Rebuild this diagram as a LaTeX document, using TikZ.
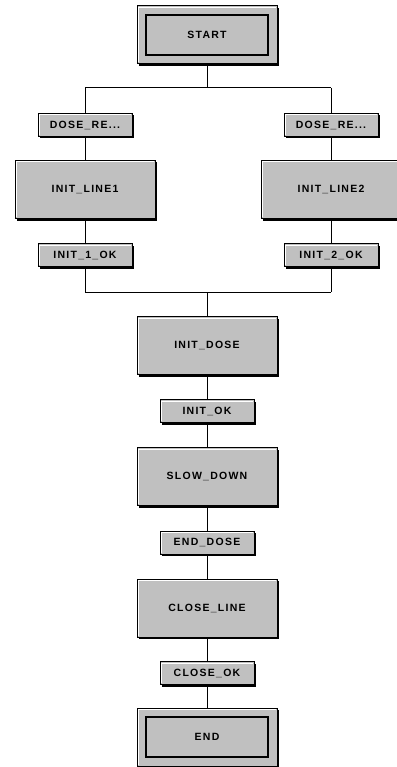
\documentclass[tikz,border=0pt]{standalone}
\usepackage{fontspec}
\newfontfamily\sfcfont{Liberation Sans}[LetterSpace=12]
\usetikzlibrary{positioning,calc,shadows}
\definecolor{stepgray}{RGB}{192,192,192}
\tikzset{
	sfcbox/.style={
		draw=black,
		line width=1pt,
		fill=stepgray,
		inner sep=0pt,
		font=\sfcfont\bfseries\fontsize{10.5}{12}\selectfont,
		drop shadow={shadow xshift=2pt,shadow yshift=-2pt,opacity=1,fill=black},
		path picture={
			\draw[white,line width=1pt]
			([shift={(1.5pt,1.5pt)}]path picture bounding box.south west) |-
			([shift={(-1.5pt,-1.5pt)}]path picture bounding box.north east);
		}
	},
	stepbox/.style={
		sfcbox,
		minimum width=140pt,
		minimum height=58pt
	},
	initstep/.style={
		stepbox,
		path picture={
			\draw[white,line width=1pt]
			([shift={(1.5pt,1.5pt)}]path picture bounding box.south west) |-
			([shift={(-1.5pt,-1.5pt)}]path picture bounding box.north east);
			\draw[line width=1.3pt]
			([shift={(9pt,-9pt)}]path picture bounding box.north west) rectangle
			([shift={(-9pt,9pt)}]path picture bounding box.south east);
		}
	},
	transbox/.style={
		sfcbox,
		minimum width=94pt,
		minimum height=23pt
	},
	link/.style={
		line width=1pt
	}
}

\begin{document}
\begin{tikzpicture}[x=1pt,y=-1pt]
	\useasboundingbox (0,0) rectangle (396,767);
	
	% Initial step
	\node[initstep] (START) at (207,35) {START};
	
	% Parallel branches
	\coordinate (divC) at (207,88);
	\coordinate (divL) at (85,88);
	\coordinate (divR) at (331,88);
	\coordinate (joinC) at (207,292);
	\coordinate (joinL) at (85,292);
	\coordinate (joinR) at (331,292);
	
	% Left line
	\node[transbox] (T_DOSE1) at (85,125) {DOSE\_RE...};
	\node[stepbox] (INIT_LINE1) at (85,189.5) {INIT\_LINE1};
	\node[transbox] (T_INIT1) at (85,255) {INIT\_1\_OK};
	
	% Right line
	\node[transbox] (T_DOSE2) at (331,125) {DOSE\_RE...};
	\node[stepbox] (INIT_LINE2) at (331,189.5) {INIT\_LINE2};
	\node[transbox] (T_INIT2) at (331,255) {INIT\_2\_OK};
	
	% Dosing sequence
	\node[stepbox] (INIT_DOSE) at (207,345.5) {INIT\_DOSE};
	\node[transbox] (T_INIT) at (207,411) {INIT\_OK};
	\node[stepbox] (SLOW_DOWN) at (207,476.5) {SLOW\_DOWN};
	\node[transbox] (T_END) at (207,542.5) {END\_DOSE};
	\node[stepbox] (CLOSE_LINE) at (207,608) {CLOSE\_LINE};
	\node[transbox] (T_CLOSE) at (207,673) {CLOSE\_OK};
	
	% Final step
	\node[initstep] (END) at (207,737) {END};
	
	% Links
	\draw[link] (START) -- (divC);
	\draw[link] (divL) -- (divR);
	\draw[link] (divL) -- (T_DOSE1);
	\draw[link] (divR) -- (T_DOSE2);
	\draw[link] (T_DOSE1) -- (INIT_LINE1);
	\draw[link] (T_DOSE2) -- (INIT_LINE2);
	\draw[link] (INIT_LINE1) -- (T_INIT1);
	\draw[link] (INIT_LINE2) -- (T_INIT2);
	\draw[link] (T_INIT1) -- (joinL);
	\draw[link] (T_INIT2) -- (joinR);
	\draw[link] (joinL) -- (joinR);
	\draw[link] (joinC) -- (INIT_DOSE);
	\draw[link] (INIT_DOSE) -- (T_INIT);
	\draw[link] (T_INIT) -- (SLOW_DOWN);
	\draw[link] (SLOW_DOWN) -- (T_END);
	\draw[link] (T_END) -- (CLOSE_LINE);
	\draw[link] (CLOSE_LINE) -- (T_CLOSE);
	\draw[link] (T_CLOSE) -- (END);
	
\end{tikzpicture}
\end{document}
